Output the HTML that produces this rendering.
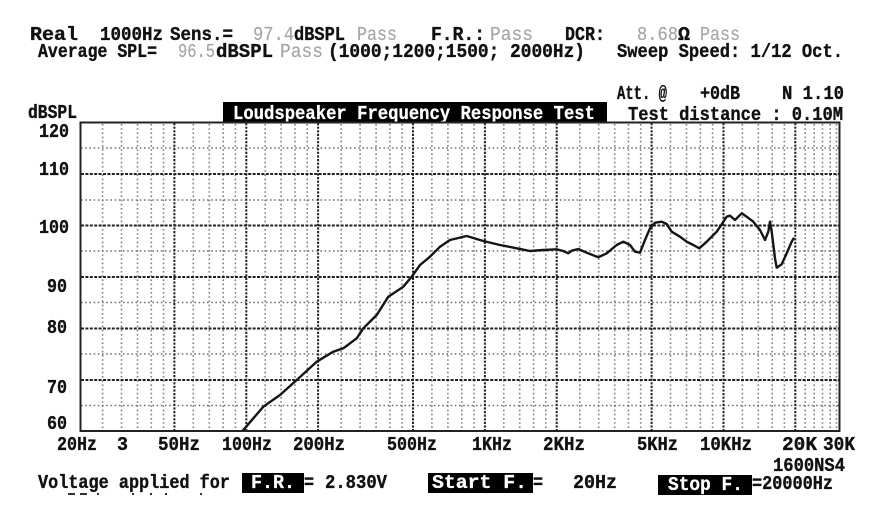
<!DOCTYPE html>
<html><head><meta charset="utf-8"><style>
html,body{margin:0;padding:0;background:#fff;}
svg{display:block;}
text{font-family:"Liberation Mono","DejaVu Sans Mono",monospace;font-weight:bold;font-size:19px;fill:#111;stroke:#111;stroke-width:0.35;}
text.g{fill:#a6a6a6;stroke:#a6a6a6;stroke-width:0.2;font-weight:normal;}
text.w{fill:#fff;stroke:#fff;stroke-width:0.3;}
</style></head><body>
<svg width="880" height="530" viewBox="0 0 880 530" xmlns="http://www.w3.org/2000/svg">
<rect width="880" height="530" fill="#fff"/>

<!-- header line 1 -->
<text x="30" y="40" textLength="48" lengthAdjust="spacingAndGlyphs">Real</text>
<text x="100" y="40" textLength="63" lengthAdjust="spacingAndGlyphs">1000Hz</text>
<text x="170" y="40" textLength="63" lengthAdjust="spacingAndGlyphs">Sens.=</text>
<text class="g" x="253" y="40" textLength="41" lengthAdjust="spacingAndGlyphs">97.4</text>
<text x="294" y="40" textLength="51" lengthAdjust="spacingAndGlyphs">dBSPL</text>
<text class="g" x="357" y="40" textLength="40" lengthAdjust="spacingAndGlyphs">Pass</text>
<text x="431" y="40" textLength="54" lengthAdjust="spacingAndGlyphs">F.R.:</text>
<text class="g" x="490" y="40" textLength="43" lengthAdjust="spacingAndGlyphs">Pass</text>
<text x="565" y="40" textLength="40" lengthAdjust="spacingAndGlyphs">DCR:</text>
<text class="g" x="637" y="40" textLength="41" lengthAdjust="spacingAndGlyphs">8.68</text>
<text x="678" y="40" textLength="12" lengthAdjust="spacingAndGlyphs">Ω</text>
<text class="g" x="700" y="40" textLength="40" lengthAdjust="spacingAndGlyphs">Pass</text>

<!-- header line 2 -->
<text x="38" y="57" textLength="119" lengthAdjust="spacingAndGlyphs">Average SPL=</text>
<text class="g" x="178" y="57" textLength="37" lengthAdjust="spacingAndGlyphs">96.5</text>
<text x="216" y="57" textLength="57" lengthAdjust="spacingAndGlyphs">dBSPL</text>
<text class="g" x="280" y="57" textLength="43" lengthAdjust="spacingAndGlyphs">Pass</text>
<text x="328" y="57" textLength="257" lengthAdjust="spacingAndGlyphs">(1000;1200;1500; 2000Hz)</text>
<text x="617" y="57" textLength="226" lengthAdjust="spacingAndGlyphs">Sweep Speed: 1/12 Oct.</text>

<!-- line 3 -->
<text x="617" y="99" textLength="50" lengthAdjust="spacingAndGlyphs">Att. @</text>
<text x="700" y="99" textLength="40" lengthAdjust="spacingAndGlyphs">+0dB</text>
<text x="782" y="99" textLength="62" lengthAdjust="spacingAndGlyphs">N 1.10</text>

<!-- line 4 -->
<text x="28" y="118" textLength="49" lengthAdjust="spacingAndGlyphs">dBSPL</text>
<rect x="223" y="102" width="384" height="21" fill="#000"/>
<text class="w" x="233" y="119" textLength="362" lengthAdjust="spacingAndGlyphs">Loudspeaker Frequency Response Test</text>
<text x="628" y="120" textLength="215" lengthAdjust="spacingAndGlyphs">Test distance : 0.10M</text>

<!-- grid: minor verticals -->
<g stroke="#808080" stroke-width="1.6" stroke-dasharray="1.6 2.6" fill="none">
<path d="M102.6 124V430M121.5 124V430M137.5 124V430M151.3 124V430M163.5 124V430
M193.3 124V430M209.3 124V430M223.2 124V430M235.4 124V430
M265.2 124V430M281.1 124V430M295.0 124V430M307.2 124V430
M341.2 124V430M360.1 124V430M376.1 124V430M389.9 124V430M402.1 124V430
M431.9 124V430M447.9 124V430M461.8 124V430M474.0 124V430
M503.8 124V430M519.7 124V430M533.6 124V430M545.8 124V430
M579.8 124V430M598.7 124V430M614.7 124V430M628.5 124V430M640.7 124V430
M670.5 124V430M686.5 124V430M700.4 124V430M712.6 124V430
M742.4 124V430M758.3 124V430M772.2 124V430M784.4 124V430
M805.2 124V430M814.2 124V430M822.5 124V430M830.2 124V430M836.5 124V430"/>
</g>
<!-- minor horizontals -->
<g stroke="#707070" stroke-width="1.6" stroke-dasharray="1.6 2.6" fill="none">
<path d="M81 148H839M81 200H839M81 251H839M81 302.5H839M81 354H839M81 405.5H839"/>
</g>
<!-- major verticals -->
<g stroke="#222" stroke-width="2" stroke-dasharray="2.2 1.4" fill="none">
<path d="M174.4 123V430M246.3 123V430M318.1 123V430M413.0 123V430M484.9 123V430M556.7 123V430M651.6 123V430M723.5 123V430M795.3 123V430"/>
</g>
<!-- major horizontals -->
<g stroke="#222" stroke-width="2" stroke-dasharray="3 1.4" fill="none">
<path d="M81 174H839M81 225.5H839M81 277H839M81 328.5H839M81 380H839"/>
</g>
<!-- border -->
<rect x="80.5" y="122.5" width="759" height="308.5" fill="none" stroke="#222" stroke-width="2"/>

<!-- response curve -->
<polyline fill="none" stroke="#151515" stroke-width="2.4" stroke-linejoin="round" points="
242.7,430.7 263.3,406.7 280,395 296.7,380 316.7,361.7 333.3,351.7 343.3,348.3 356.7,338.3 363.3,328.3
376.7,315 388.3,296.7 403.3,286.7 411.7,276.7 420,265 430,256.7 440,246.7 450,240 466.7,236 483.3,241
500,245 516.7,248.3 530,251 543.3,250 556.7,249.3 563.3,251 568.3,253.3 571.7,250.7 578.3,249 586.7,252.7
598.3,257.3 606.7,253.3 616.7,245 623.3,241.7 630,245 635,251.7 640,252.7 645,240 650,228.3 655,222.7
661.7,221.7 666.7,224 671.7,231.7 680,236.7 686.7,241.7 693.3,245 699.3,248.3 706.7,241.7 716.7,231.7
721.7,224.3 726.7,216.7 730,215.7 735,220 741.7,213.3 746.7,216.7 753.3,221.7 760,230 765,240 768.3,231.7
770,221.7 771.7,231.7 775,258.3 776.7,267.7 781.7,264.3 786.7,253.3 791.7,241.7 794,237.7"/>

<!-- y labels -->
<g text-anchor="end">
<text x="69" y="137" textLength="30" lengthAdjust="spacingAndGlyphs">120</text>
<text x="69" y="175" textLength="30" lengthAdjust="spacingAndGlyphs">110</text>
<text x="69" y="233" textLength="30" lengthAdjust="spacingAndGlyphs">100</text>
<text x="67" y="292" textLength="20" lengthAdjust="spacingAndGlyphs">90</text>
<text x="67" y="333" textLength="20" lengthAdjust="spacingAndGlyphs">80</text>
<text x="67" y="393" textLength="20" lengthAdjust="spacingAndGlyphs">70</text>
<text x="67" y="429" textLength="20" lengthAdjust="spacingAndGlyphs">60</text>
</g>

<!-- x labels -->
<text x="57" y="450" textLength="40" lengthAdjust="spacingAndGlyphs">20Hz</text>
<text x="117" y="450" textLength="11" lengthAdjust="spacingAndGlyphs">3</text>
<text x="158" y="450" textLength="42" lengthAdjust="spacingAndGlyphs">50Hz</text>
<text x="222" y="450" textLength="50" lengthAdjust="spacingAndGlyphs">100Hz</text>
<text x="293" y="450" textLength="52" lengthAdjust="spacingAndGlyphs">200Hz</text>
<text x="387" y="450" textLength="50" lengthAdjust="spacingAndGlyphs">500Hz</text>
<text x="472" y="450" textLength="40" lengthAdjust="spacingAndGlyphs">1KHz</text>
<text x="543" y="450" textLength="42" lengthAdjust="spacingAndGlyphs">2KHz</text>
<text x="637" y="450" textLength="41" lengthAdjust="spacingAndGlyphs">5KHz</text>
<text x="700" y="450" textLength="52" lengthAdjust="spacingAndGlyphs">10KHz</text>
<text x="782" y="450" textLength="35" lengthAdjust="spacingAndGlyphs">20K</text>
<text x="823" y="450" textLength="32" lengthAdjust="spacingAndGlyphs">30K</text>
<text x="773" y="471" textLength="72" lengthAdjust="spacingAndGlyphs">1600NS4</text>

<!-- bottom line -->
<text x="38" y="488" textLength="192" lengthAdjust="spacingAndGlyphs">Voltage applied for</text>
<rect x="242" y="473" width="62" height="20" fill="#000"/>
<text class="w" x="251" y="488" textLength="44" lengthAdjust="spacingAndGlyphs">F.R.</text>
<text x="304" y="488" textLength="10" lengthAdjust="spacingAndGlyphs">=</text>
<text x="325" y="488" textLength="62" lengthAdjust="spacingAndGlyphs">2.830V</text>
<rect x="428" y="473" width="105" height="20" fill="#000"/>
<text class="w" x="432" y="488" textLength="95" lengthAdjust="spacingAndGlyphs">Start F.</text>
<text x="533" y="488" textLength="10" lengthAdjust="spacingAndGlyphs">=</text>
<text x="573" y="488" textLength="44" lengthAdjust="spacingAndGlyphs">20Hz</text>
<rect x="658" y="475" width="94" height="20" fill="#000"/>
<text class="w" x="668" y="490" textLength="75" lengthAdjust="spacingAndGlyphs">Stop F.</text>
<text x="752" y="489" textLength="81" lengthAdjust="spacingAndGlyphs">=20000Hz</text>

<!-- cut-off fragments of next line -->
<g fill="#333">
<rect x="68" y="493" width="7" height="2"/>
<rect x="80" y="493" width="7" height="2"/>
<rect x="97" y="493" width="2" height="2"/>
<rect x="132" y="493" width="2" height="2"/>
<rect x="150" y="493" width="2" height="2"/>
<rect x="165" y="493" width="2" height="2"/>
<rect x="200" y="493" width="2" height="2"/>
</g>
</svg>
</body></html>
